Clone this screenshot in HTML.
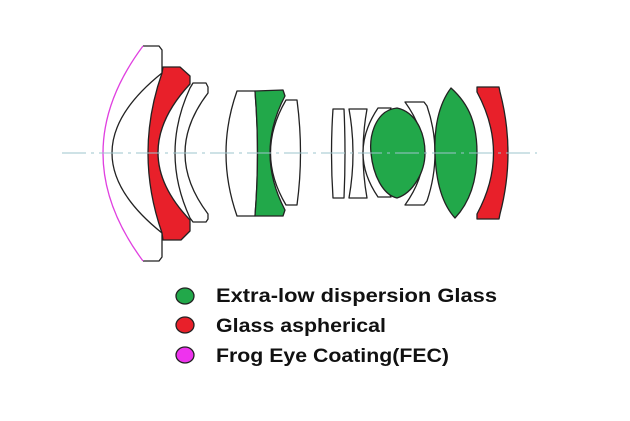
<!DOCTYPE html>
<html><head><style>html,body{margin:0;padding:0;background:#fff;}svg{display:block;}</style></head>
<body>
<svg width="630" height="421" viewBox="0 0 630 421" xmlns="http://www.w3.org/2000/svg">
<g stroke="#222" stroke-width="1.3" stroke-linejoin="round">
<!-- element 1 -->
<path d="M143,46 L159,46 L162,50 L162,73 Q62,153 162,233 L162,257 L159,261 L143,261" fill="#fff"/>
<path d="M143,46 Q63,153 143,261" fill="none" stroke="#e040e0"/>
<!-- element 2 red -->
<path d="M163,67 L180,67 L190,76 L190,84 Q126,153 190,220 L190,231 L181,240 L163,240 L162,233 Q134,153 162,73 Z" fill="#e8202a"/>
<!-- element 3 -->
<path d="M193,83 L206,83 L208,87 L208,93 Q162,153 208,214 L208,219 L206,222 L193,222 L190,218 Q160,153 190,88 Z" fill="#fff"/>
<!-- element 4 -->
<path d="M237,91 L255,91 Q260,153 255,216 L237,216 Q215,153 237,91 Z" fill="#fff"/>
<!-- element 5 green -->
<path d="M255,91 L283,90 L285,96 Q255,153 285,210 L283,216 L255,216 Q260,153 255,91 Z" fill="#22a84a"/>
<!-- element 6 -->
<path d="M286,100 L297,100 Q304,153 297,205 L286,205 Q255,153 286,100 Z" fill="#fff"/>
<!-- element 7 -->
<path d="M333,109 L344,109 Q346,153 344,198 L333,198 Q330,153 333,109 Z" fill="#fff"/>
<!-- element 8 -->
<path d="M349,109 L367,109 Q359,153 367,198 L349,198 Q357,153 349,109 Z" fill="#fff"/>
<!-- element 9 -->
<path d="M378,108 L391,108 Q368,153 391,197 L378,197 Q348,153 378,108 Z" fill="#fff"/>
<!-- element 11 -->
<path d="M405,102 L424,102 L427,106 Q443,153 427,201 L424,205 L405,205 Q442,153 405,102 Z" fill="#fff"/>
<!-- element 10 green -->
<path d="M397,108 C376,110 369,135 371,153 C373,175 383,195 397,198 C413,193 425,172 425,153 C425,133 416,112 397,108 Z" fill="#22a84a"/>
<!-- element 12 green -->
<path d="M451,88 C438,105 434,130 435,153 C436,185 443,205 455,218 C472,200 477,175 477,153 C477,125 470,105 451,88 Z" fill="#22a84a"/>
<!-- element 13 red -->
<path d="M477,87 L499,87 L500,92 Q516,153 500,214 L499,219 L477,219 L477,214 Q510,153 477,92 Z" fill="#e8202a"/>
</g>
<line x1="62" y1="153" x2="537" y2="153" stroke="#9cc4cc" stroke-width="1" stroke-dasharray="24,5,3,5"/>
<g stroke="#222" stroke-width="1.3">
<ellipse cx="185" cy="296" rx="9" ry="8" fill="#22a84a"/>
<ellipse cx="185" cy="325" rx="9" ry="8" fill="#e8202a"/>
<ellipse cx="185" cy="355" rx="9" ry="8" fill="#ee33ee"/>
</g>
<g font-family="Liberation Sans, sans-serif" font-weight="bold" font-size="19" fill="#111">
<text x="216" y="302" textLength="281" lengthAdjust="spacingAndGlyphs">Extra-low dispersion Glass</text>
<text x="216" y="332" textLength="170" lengthAdjust="spacingAndGlyphs">Glass aspherical</text>
<text x="216" y="362" textLength="233" lengthAdjust="spacingAndGlyphs">Frog Eye Coating(FEC)</text>
</g>
</svg>
</body></html>
